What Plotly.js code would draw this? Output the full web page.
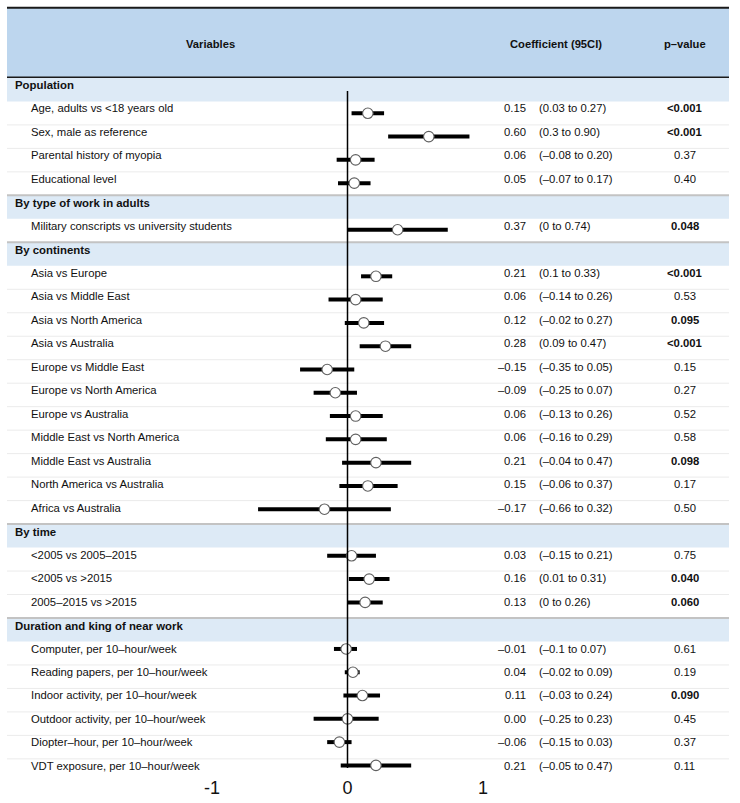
<!DOCTYPE html>
<html>
<head>
<meta charset="utf-8">
<script src="https://cdn.plot.ly/plotly-3.0.1.min.js"></script>
<style>html,body{margin:0;padding:0;background:#fff;}#chart{width:740px;height:803px;}</style>
</head>
<body>
<div id="chart"></div>
<script>
// ---------- data ----------
const sections = ['Population', 'By type of work in adults', 'By continents', 'By time', 'Duration and king of near work'];
const sectionCounts = [4, 1, 11, 3, 6];
const variables = [
  'Age, adults vs <18 years old', 'Sex, male as reference', 'Parental history of myopia', 'Educational level',
  'Military conscripts vs university students',
  'Asia vs Europe', 'Asia vs Middle East', 'Asia vs North America', 'Asia vs Australia',
  'Europe vs Middle East', 'Europe vs North America', 'Europe vs Australia',
  'Middle East vs North America', 'Middle East vs Australia', 'North America vs Australia', 'Africa vs Australia',
  '<2005 vs 2005–2015', '<2005 vs >2015', '2005–2015 vs >2015',
  'Computer, per 10–hour/week', 'Reading papers, per 10–hour/week', 'Indoor activity, per 10–hour/week',
  'Outdoor activity, per 10–hour/week', 'Diopter–hour, per 10–hour/week', 'VDT exposure, per 10–hour/week'
];
const coef   = [0.15, 0.60, 0.06, 0.05, 0.37, 0.21, 0.06, 0.12, 0.28, -0.15, -0.09, 0.06, 0.06, 0.21, 0.15, -0.17, 0.03, 0.16, 0.13, -0.01, 0.04, 0.11, 0.00, -0.06, 0.21];
const ciLow  = [0.03, 0.3, -0.08, -0.07, 0, 0.1, -0.14, -0.02, 0.09, -0.35, -0.25, -0.13, -0.16, -0.04, -0.06, -0.66, -0.15, 0.01, 0, -0.1, -0.02, -0.03, -0.25, -0.15, -0.05];
const ciHigh = [0.27, 0.90, 0.20, 0.17, 0.74, 0.33, 0.26, 0.27, 0.47, 0.05, 0.07, 0.26, 0.29, 0.47, 0.37, 0.32, 0.21, 0.31, 0.26, 0.07, 0.09, 0.24, 0.23, 0.03, 0.47];
const ciLabels = [
  '(0.03 to 0.27)', '(0.3 to 0.90)', '(–0.08 to 0.20)', '(–0.07 to 0.17)',
  '(0 to 0.74)',
  '(0.1 to 0.33)', '(–0.14 to 0.26)', '(–0.02 to 0.27)', '(0.09 to 0.47)',
  '(–0.35 to 0.05)', '(–0.25 to 0.07)', '(–0.13 to 0.26)', '(–0.16 to 0.29)',
  '(–0.04 to 0.47)', '(–0.06 to 0.37)', '(–0.66 to 0.32)',
  '(–0.15 to 0.21)', '(0.01 to 0.31)', '(0 to 0.26)',
  '(–0.1 to 0.07)', '(–0.02 to 0.09)', '(–0.03 to 0.24)', '(–0.25 to 0.23)', '(–0.15 to 0.03)', '(–0.05 to 0.47)'
];
const pLabels = ['<0.001', '<0.001', '0.37', '0.40', '0.048', '<0.001', '0.53', '0.095', '<0.001', '0.15', '0.27', '0.52', '0.58', '0.098', '0.17', '0.50', '0.75', '0.040', '0.060', '0.61', '0.19', '0.090', '0.45', '0.37', '0.11'];
const headerLabels = ['Variables', 'Coefficient (95CI)', 'p–value'];
const xTickVals = [-1, 0, 1];
const xTickText = ['-1', '0', '1'];

// ---------- geometry ----------
const W = 740, H = 803, MB = 28;
const PH = H - MB;                       // plot-area height in px
const T0 = 89.7, TP = 23.48;             // table rows: centre of row 0, pitch
const F0 = 90.0, FP = 23.29;             // forest rows: centre of row 0, pitch
const tRow = px => (px - T0) / TP;
const X0PX = 347.5, XPPU = 135.5;
const xr = [-X0PX / XPPU, (W - X0PX) / XPPU];
const FONT = 'Liberation Sans, Arial, Helvetica, sans-serif';
const TX = 0.2;                          // text offset (rows) above row centre

// ---------- row layout ----------
const itemRow = [], sectionRow = [], sectionOfItem = [];
let r = 0, idx = 0;
sections.forEach((s, si) => {
  sectionRow.push(r); r++;
  for (let j = 0; j < sectionCounts[si]; j++) { itemRow.push(r); sectionOfItem.push(si); r++; idx++; }
});
const nRows = r;

const shapes = [];
const annotations = [];
const pl = px => px / W;

// header
shapes.push({type: 'rect', xref: 'paper', yref: 'y', x0: pl(7), x1: pl(729), y0: tRow(8), y1: tRow(77.3), fillcolor: '#bdd6ee', line: {width: 0}, layer: 'below'});
shapes.push({type: 'line', xref: 'paper', yref: 'y', x0: pl(7), x1: pl(729), y0: tRow(7.8), y1: tRow(7.8), line: {color: '#1a1a1a', width: 2}});
shapes.push({type: 'line', xref: 'paper', yref: 'y', x0: pl(7), x1: pl(729), y0: tRow(77.3), y1: tRow(77.3), line: {color: '#1a1a1a', width: 1.5}});
const headerX = [210, 556, 685];
headerLabels.forEach((h, i) => annotations.push({
  xref: 'paper', yref: 'y', x: pl(headerX[i]), y: tRow(43.5), text: '<b>' + h + '</b>', showarrow: false,
  xanchor: 'center', yanchor: 'middle', font: {family: FONT, size: 11.2, color: '#111'}
}));

// section bands
sectionRow.forEach((sr, si) => {
  shapes.push({type: 'rect', xref: 'paper', yref: 'y', x0: pl(7), x1: pl(729), y0: sr - 0.5, y1: sr + 0.5, fillcolor: '#ddeaf6', line: {width: 0}, layer: 'below'});
  if (si > 0) shapes.push({type: 'line', xref: 'paper', yref: 'y', x0: pl(7), x1: pl(729), y0: sr - 0.5, y1: sr - 0.5, line: {color: '#c3c3c3', width: 2}, layer: 'below'});
  annotations.push({xref: 'paper', yref: 'y', x: pl(12.5), y: sr - TX * 0.9, text: '<b>' + sections[si] + '</b>', showarrow: false,
    xanchor: 'left', yanchor: 'middle', font: {family: FONT, size: 11.4, color: '#111'}});
});

// item rows
const fmt = v => v.toFixed(2).replace('-', '–');
itemRow.forEach((ir, i) => {
  if (i > 0 && sectionOfItem[i] === sectionOfItem[i - 1]) {
    shapes.push({type: 'line', xref: 'paper', yref: 'y', x0: pl(7), x1: pl(729), y0: ir - 0.5, y1: ir - 0.5, line: {color: '#ebebeb', width: 1}, layer: 'below'});
  }
  const y = ir - TX;
  const f = {family: FONT, size: 11.3, color: '#111'};
  annotations.push({xref: 'paper', yref: 'y', x: pl(28.5), y: y, text: variables[i].replace(/</g, '&lt;').replace(/>/g, '&gt;'), showarrow: false, xanchor: 'left', yanchor: 'middle', font: f});
  annotations.push({xref: 'paper', yref: 'y', x: pl(527.5), y: y, text: fmt(coef[i]), showarrow: false, xanchor: 'right', yanchor: 'middle', font: f});
  annotations.push({xref: 'paper', yref: 'y', x: pl(537), y: y, text: ciLabels[i], showarrow: false, xanchor: 'left', yanchor: 'middle', font: f});
  const pv = parseFloat(pLabels[i].replace('<', ''));
  const pt = pLabels[i].replace('<', '&lt;');
  annotations.push({xref: 'paper', yref: 'y', x: pl(684.5), y: y, text: pv < 0.1 ? '<b>' + pt + '</b>' : pt, showarrow: false, xanchor: 'center', yanchor: 'middle', font: f});
});

// vertical reference line at 0 (forest axis)
shapes.push({type: 'line', xref: 'x', yref: 'y2', x0: 0, x1: 0, y0: (91 - F0) / FP, y1: (768 - F0) / FP, line: {color: '#000', width: 1.5}});

// ---------- traces ----------
const trace = {
  type: 'scatter', mode: 'markers', xaxis: 'x', yaxis: 'y2',
  x: coef, y: itemRow,
  marker: {symbol: 'circle', size: 10.5, color: '#fff', line: {color: '#606060', width: 1.1}},
  error_x: {type: 'data', symmetric: false,
    array: coef.map((c, i) => ciHigh[i] - c), arrayminus: coef.map((c, i) => c - ciLow[i]),
    color: '#000', thickness: 4, width: 0},
  hoverinfo: 'skip', cliponaxis: false, showlegend: false
};

const layout = {
  width: W, height: H,
  margin: {l: 0, r: 0, t: 0, b: MB, pad: 0},
  paper_bgcolor: '#fff', plot_bgcolor: 'rgba(0,0,0,0)',
  showlegend: false,
  xaxis: {range: xr, tickvals: xTickVals, ticktext: xTickText, showgrid: false, zeroline: false, showline: false,
    ticks: '', tickfont: {family: FONT, size: 18, color: '#111'}, fixedrange: true},
  yaxis: {range: [-T0 / TP + PH / TP, -T0 / TP], visible: false, showgrid: false, zeroline: false, fixedrange: true},
  yaxis2: {range: [-F0 / FP + PH / FP, -F0 / FP], overlaying: 'y', visible: false, showgrid: false, zeroline: false, fixedrange: true},
  shapes: shapes, annotations: annotations
};

Plotly.newPlot('chart', [trace], layout, {staticPlot: true, displayModeBar: false});
</script>
</body>
</html>
